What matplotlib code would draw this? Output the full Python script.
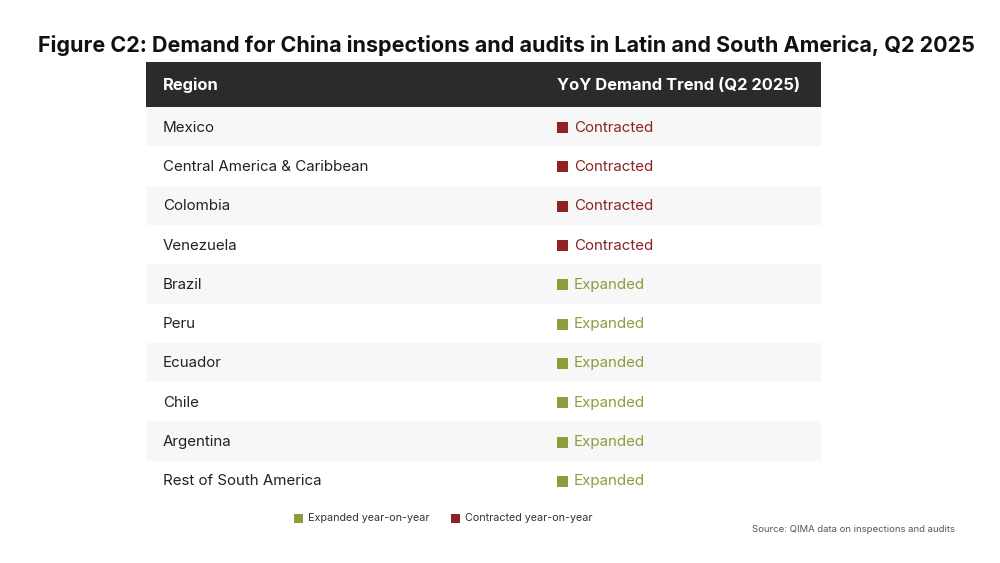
import matplotlib.pyplot as plt
from matplotlib.patches import Rectangle

plt.rcParams['font.family'] = ['Inter', 'DejaVu Sans']

regions = ['Mexico', 'Central America & Caribbean', 'Colombia', 'Venezuela', 'Brazil',
           'Peru', 'Ecuador', 'Chile', 'Argentina', 'Rest of South America']
trends = ['Contracted', 'Contracted', 'Contracted', 'Contracted', 'Expanded',
          'Expanded', 'Expanded', 'Expanded', 'Expanded', 'Expanded']
headers = ['Region', 'YoY Demand Trend (Q2 2025)']
legend_labels = {'Expanded': 'Expanded year-on-year', 'Contracted': 'Contracted year-on-year'}

colors = {'Contracted': '#8f2323', 'Expanded': '#8a9e3c'}
title = 'Figure C2: Demand for China inspections and audits in Latin and South America, Q2 2025'
source = 'Source: QIMA data on inspections and audits'

fig = plt.figure(figsize=(10, 5.63), dpi=100)
ax = fig.add_axes([0, 0, 1, 1])
ax.set_xlim(0, 1000)
ax.set_ylim(563, 0)
ax.axis('off')

left, right = 146, 821
head_top, head_bot = 62, 107
row_h = 39.3

ax.text(506, 46, title, ha='center', va='center', fontsize=15.5, fontweight='bold', color='#111111')

# header
ax.add_patch(Rectangle((left, head_top), right - left, head_bot - head_top, color='#2b2b2b', lw=0))
ax.text(163, (head_top + head_bot) / 2 + 1, headers[0], ha='left', va='center',
        fontsize=11.9, fontweight='bold', color='white')
ax.text(557, (head_top + head_bot) / 2 + 1, headers[1], ha='left', va='center',
        fontsize=11.9, fontweight='bold', color='white')

# rows
for i, (reg, tr) in enumerate(zip(regions, trends)):
    y0 = head_bot + i * row_h
    yc = y0 + row_h / 2 + 1
    if i % 2 == 0:
        ax.add_patch(Rectangle((left, y0), right - left, row_h, color='#f7f7f7', lw=0))
    ax.text(163, yc, reg, ha='left', va='center', fontsize=10.9, color='#222222')
    ax.add_patch(Rectangle((557, yc - 5.5), 11, 11, color=colors[tr], lw=0))
    ax.text(574, yc, tr, ha='left', va='center', fontsize=10.9, color=colors[tr])

# legend
ly = 518
lx = 294
for key in ['Expanded', 'Contracted']:
    ax.add_patch(Rectangle((lx, ly - 4.5), 9, 9, color=colors[key], lw=0))
    ax.text(lx + 14, ly, legend_labels[key], ha='left', va='center', fontsize=7.75, color='#333333')
    lx += 157

ax.text(955, 530, source, ha='right', va='center', fontsize=6.85, color='#555555')

fig.savefig('out.png', dpi=100)
